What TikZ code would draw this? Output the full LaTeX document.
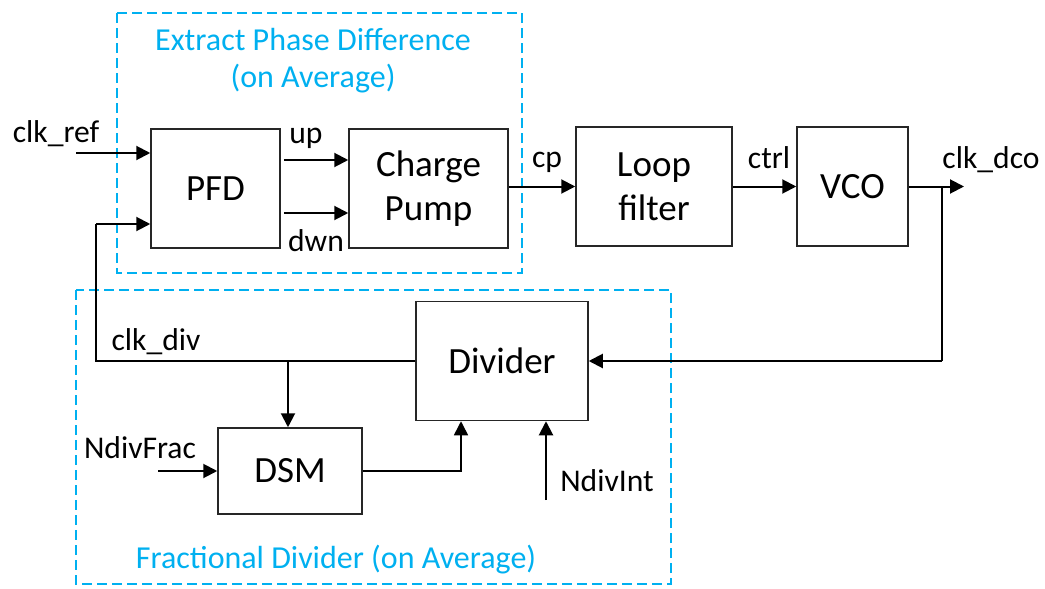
\documentclass[tikz,border=0pt]{standalone}
\usepackage{fontspec}
\setmainfont{Carlito}
\usetikzlibrary{arrows.meta,calc}
\definecolor{office}{RGB}{0,176,240}
\tikzset{
  blk/.style={draw=black!85,line width=0.75pt,inner sep=0pt,align=center,font=\fontsize{18.5}{22}\selectfont},
  lbl/.style={inner sep=0pt,font=\fontsize{15.8}{18}\selectfont},
  btxt/.style={inner sep=0pt,text=office,align=center,font=\fontsize{16}{18.5}\selectfont},
  grp/.style={draw=office,line width=1pt,dash pattern=on 5pt off 2.5pt},
  arr/.style={line width=1pt,-{Triangle[length=7pt,width=7pt]}},
  tarr/.style={line width=0.75pt,-{Triangle[length=7pt,width=7pt]}},
  wire/.style={line width=0.75pt}
}
\begin{document}
\begin{tikzpicture}[x=0.5pt,y=-0.5pt]
\useasboundingbox (0,0) rectangle (1045,589);
% groups
\draw[grp] (117,13) rectangle (522,273);
\draw[grp] (76,290) rectangle (671,584);
\node[btxt] (t1) at (313,61) {Extract Phase Difference\\(on Average)};
\node[btxt] (t2) at (336,560) {Fractional Divider (on Average)};
% blocks
\node[blk,minimum width=64.5pt,minimum height=59.5pt] (PFD) at (215.5,188.5) {PFD};
\node[blk,minimum width=79.5pt,minimum height=59.5pt] (CP) at (428.5,188.5) {Charge\\Pump};
\node[blk,minimum width=78pt,minimum height=59.5pt] (LF) at (654,186.5) {Loop\\filter};
\node[blk,minimum width=55.5pt,minimum height=59.5pt] (VCO) at (852.5,186.5) {VCO};
\node[blk,minimum width=86pt,minimum height=59.5pt] (Div) at (502,361) {Divider};
\node[blk,minimum width=72pt,minimum height=43pt] (DSM) at (290,471) {DSM};
% labels
\node[lbl] (lref) at (56,134) {clk\_ref};
\node[lbl] (lup) at (306,138) {up};
\node[lbl] (ldwn) at (316,241) {dwn};
\node[lbl] (lcp) at (547,162) {cp};
\node[lbl] (lctrl) at (769,158) {ctrl};
\node[lbl] (ldco) at (991,160) {clk\_dco};
\node[lbl] (ldiv) at (156,342) {clk\_div};
\node[lbl] (lfrac) at (140,448) {NdivFrac};
\node[lbl] (lint) at (607,481) {NdivInt};
% coordinates
\coordinate (refin) at (76,153);
\coordinate (fbtop) at (96,224);
\coordinate (dco) at (964,186.5);
\coordinate (br) at (942,186.5);
\coordinate (nint) at (546,500);
\coordinate (nfrac) at (158,471);
\coordinate (tap) at (288,361);
% connectors
\draw[arr] (refin) -- (refin -| PFD.west);
\draw[arr] ($(PFD.east)+(3,-28.5)$) -- ($(CP.west)+(0,-28.5)$);
\draw[arr] ($(PFD.east)+(3,24.5)$) -- ($(CP.west)+(0,24.5)$);
\draw[arr] (CP.east |- LF.west) -- (LF.west);
\draw[arr] (LF.east) -- (VCO.west);
\draw[arr] (VCO.east) -- (dco);
\draw[wire] (br) -- (br |- Div.east);
\draw[arr] (br |- Div.east) -- (Div.east);
\draw[wire] (Div.west) -- (fbtop |- Div.west) -- (fbtop);
\draw[arr] (fbtop) -- (fbtop -| PFD.west);
\draw[arr] (tap) -- (tap |- DSM.north);
\draw[tarr] (DSM.east) -| ($(Div.south)+(-41,0)$);
\draw[arr] (nint) -- (nint |- Div.south);
\draw[arr] (nfrac) -- (nfrac -| DSM.west);
\end{tikzpicture}
\end{document}
